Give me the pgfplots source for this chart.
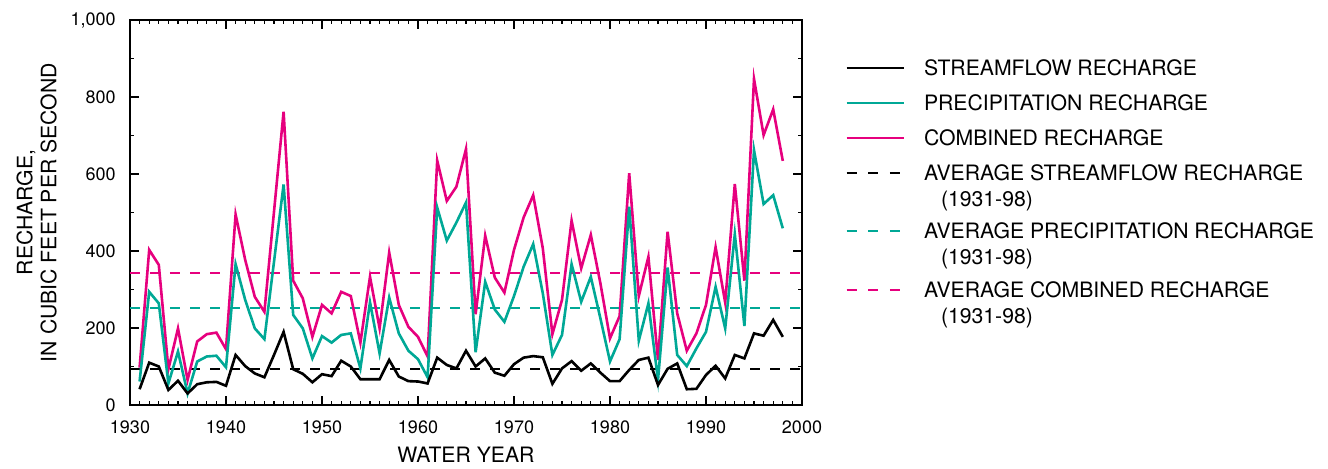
\documentclass[border=0pt]{standalone}
\usepackage{pgfplots}
\pgfplotsset{compat=1.18}
\usepackage{fontspec}
\setmainfont{TeX Gyre Heros}
\definecolor{magentaline}{RGB}{230,0,126}
\definecolor{tealline}{RGB}{0,168,150}

\pgfplotstableread{
year stream precip combined
1931 41 61 97
1932 110 294 403
1933 100 264 364
1934 39 56 93
1935 63 139 199
1936 30 30 65
1937 54 113 165
1938 59 126 184
1939 60 128 188
1940 50 98 145
1941 130 366 495
1942 101 273 377
1943 82 199 281
1944 72 171 242
1945 130 372 502
1946 190 573 762
1947 93 234 323
1948 81 199 277
1949 59 121 177
1950 80 179 260
1951 75 162 238
1952 115 182 294
1953 100 186 283
1954 67 95 162
1955 67 267 333
1956 67 134 199
1957 117 279 396
1958 74 186 260
1959 62 141 203
1960 61 119 177
1961 56 72 126
1962 123 513 635
1963 104 427 530
1964 95 474 567
1965 141 526 665
1966 100 137 236
1967 121 320 440
1968 84 248 331
1969 76 216 292
1970 106 283 403
1971 123 359 487
1972 127 418 545
1973 124 290 407
1974 55 130 184
1975 95 182 273
1976 114 366 479
1977 89 268 355
1978 108 333 442
1979 84 225 316
1980 62 113 173
1981 62 171 231
1982 91 515 602
1983 117 167 283
1984 123 264 385
1985 52 65 117
1986 94 357 450
1987 108 130 238
1988 41 101 141
1989 42 147 186
1990 78 190 260
1991 102 307 410
1992 69 199 266
1993 130 444 574
1994 121 205 323
1995 186 662 847
1996 180 522 701
1997 221 545 768
1998 177 459 634
}\datatable

\begin{document}
\begin{tikzpicture}
\path[use as bounding box] (-65pt,-31.5pt) rectangle (599pt,202.5pt);
\begin{axis}[
  at={(0pt,0pt)}, anchor=south west,
  scale only axis,
  width=336pt, height=192.5pt,
  xmin=1930, xmax=2000, ymin=0, ymax=1000,
  xtick={1930,1940,...,2000},
  ytick={0,200,...,1000},
  minor x tick num=9,
  minor y tick num=1,
  tick pos=both,
  tick align=inside,
  major tick length=4.5pt,
  minor tick length=2pt,
  axis line style={line width=0.7pt},
  tick style={line width=0.6pt, black},
  /pgf/number format/assume math mode=true,
  ticklabel style={font=\fontsize{9}{10}\selectfont, inner sep=0pt},
  xticklabel style={/pgf/number format/1000 sep={}, yshift=-7.5pt},
  yticklabel style={/pgf/number format/1000 sep={,}, xshift=-7pt},
  xlabel={WATER YEAR},
  ylabel={RECHARGE,\\IN CUBIC FEET PER SECOND},
  label style={font=\fontsize{10.6}{12}\selectfont},
  xlabel style={at={(axis description cs:0.5,-0.13)}, anchor=center},
  ylabel style={at={(axis description cs:-0.139,0.5)}, anchor=center, align=center},
  legend style={at={(axis description cs:1.064,0.9226)}, anchor=north west,
    draw=none, fill=none, inner sep=0pt, row sep=0pt, column sep=9.3pt,
    nodes={inner sep=0pt, text depth=, text height=, font=\fontsize{10.6}{12}\selectfont},
    cells={anchor=base west}},
  legend image code/.code={\draw[#1] (0pt,3.7pt) -- (28.7pt,3.7pt);},
]
\addplot[forget plot, magentaline, line width=1pt, dash pattern=on 5pt off 5pt] coordinates {(1930,343) (2000,343)};
\addplot[forget plot, tealline, line width=1pt, dash pattern=on 5pt off 5pt] coordinates {(1930,251) (2000,251)};
\addplot[forget plot, black, line width=1pt, dash pattern=on 5pt off 5pt] coordinates {(1930,94) (2000,94)};
\addplot[forget plot, magentaline, line width=1.3pt] table[x=year, y=combined] {\datatable};
\addplot[forget plot, tealline, line width=1.3pt] table[x=year, y=precip] {\datatable};
\addplot[forget plot, black, line width=1.3pt] table[x=year, y=stream] {\datatable};

\addlegendimage{black, line width=1.3pt}
\addlegendentry{\rule[-5pt]{0pt}{17.5pt}STREAMFLOW RECHARGE}
\addlegendimage{tealline, line width=1.3pt}
\addlegendentry{\rule[-5pt]{0pt}{17.5pt}PRECIPITATION RECHARGE}
\addlegendimage{magentaline, line width=1.3pt}
\addlegendentry{\rule[-5pt]{0pt}{17.5pt}COMBINED RECHARGE}
\addlegendimage{black, line width=1pt, dash pattern=on 5pt off 5.8pt}
\addlegendentry{\rule[-5pt]{0pt}{17.5pt}AVERAGE STREAMFLOW RECHARGE}
\addlegendimage{empty legend}
\addlegendentry{\rule[-3.7pt]{0pt}{11.7pt}\hspace*{8.5pt}(1931-98)}
\addlegendimage{tealline, line width=1pt, dash pattern=on 5pt off 5.8pt}
\addlegendentry{\rule[-5pt]{0pt}{17.5pt}AVERAGE PRECIPITATION RECHARGE}
\addlegendimage{empty legend}
\addlegendentry{\rule[-3.7pt]{0pt}{11.7pt}\hspace*{8.5pt}(1931-98)}
\addlegendimage{magentaline, line width=1pt, dash pattern=on 5pt off 5.8pt}
\addlegendentry{\rule[-5pt]{0pt}{17.5pt}AVERAGE COMBINED RECHARGE}
\addlegendimage{empty legend}
\addlegendentry{\rule[-3.7pt]{0pt}{11.7pt}\hspace*{8.5pt}(1931-98)}

\node[font=\fontsize{12.8}{14}\selectfont, inner sep=0pt, anchor=center] at (axis description cs:1.4077,0.9553) {EXPLANATION};
\end{axis}
\end{tikzpicture}
\end{document}
